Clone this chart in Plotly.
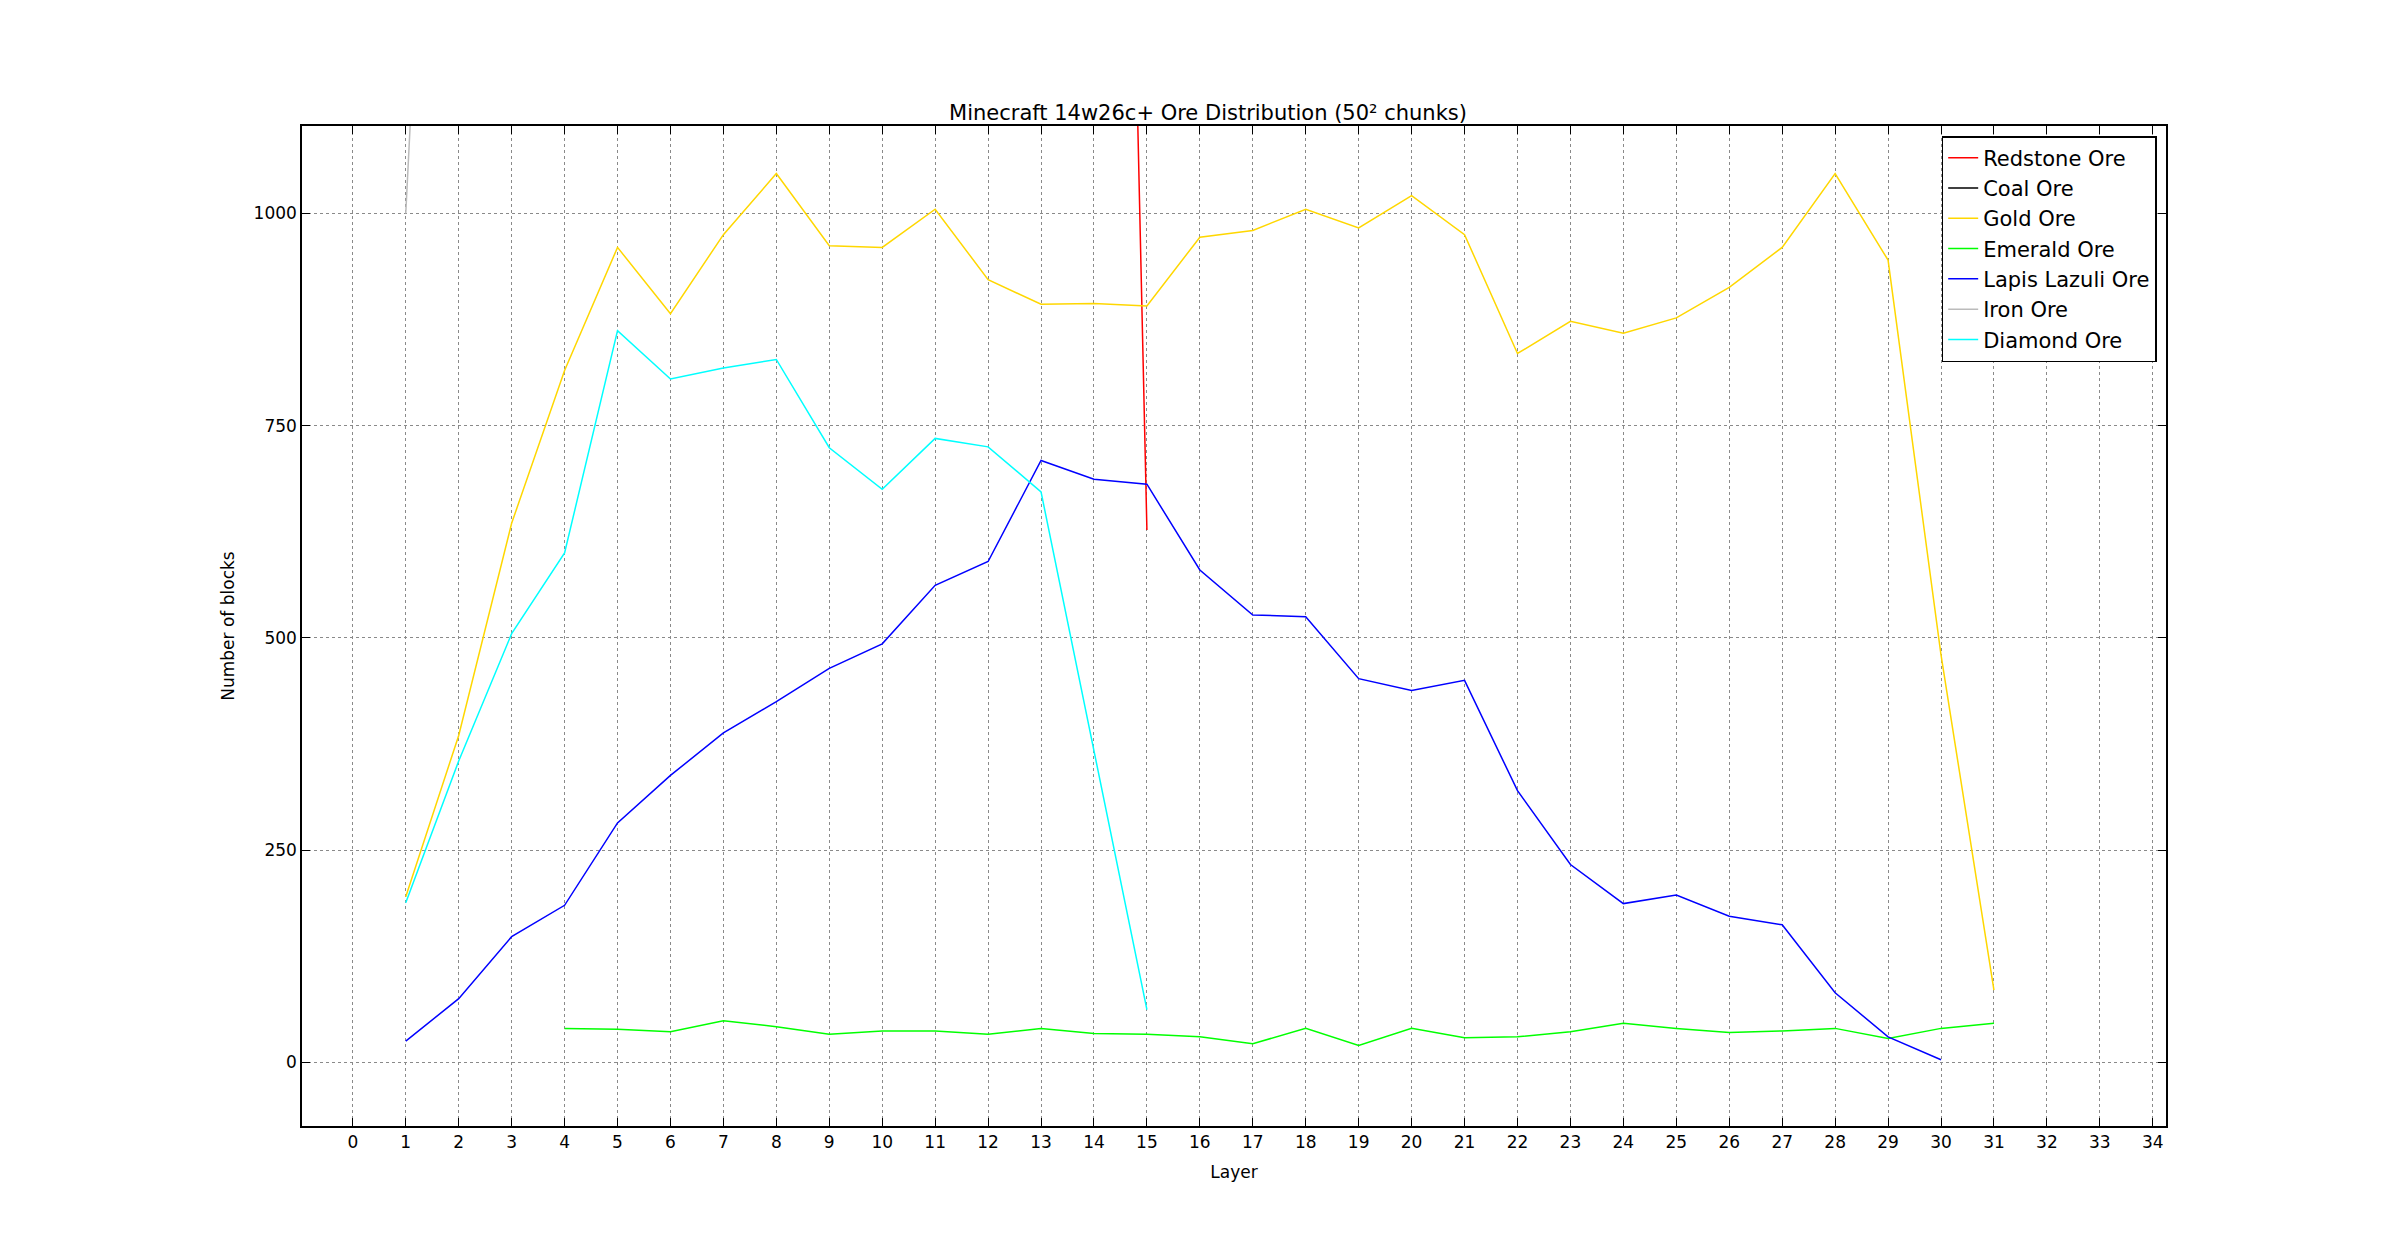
import plotly.graph_objects as go

layers_red = list(range(1, 16))
redstone = [3400]*14 + [627]
layers_coal = list(range(1, 16))
coal = [5000]*15
layers_iron = list(range(1, 16))
iron = [1000] + [2250]*14
layers_gold = list(range(1, 32))
gold = [195, 385, 635, 815, 960, 882, 975, 1047, 962, 960, 1005, 922, 893, 894, 891,
        972, 980, 1005, 983, 1021, 975, 835, 873, 859, 877, 913, 960, 1047, 945, 480, 85]
layers_em = list(range(4, 32))
emerald = [40, 39, 36, 49, 42, 33, 37, 37, 33, 40, 34, 33, 30, 22, 40, 20, 40, 29, 30, 36,
           46, 40, 35, 37, 40, 28, 40, 46]
layers_lapis = list(range(1, 31))
lapis = [25, 75, 148, 185, 282, 338, 388, 425, 464, 493, 562, 590, 709, 687, 681, 580, 527,
         525, 452, 438, 450, 320, 233, 187, 197, 172, 162, 82, 30, 3]
layers_dia = list(range(1, 16))
diamond = [188, 355, 505, 600, 862, 805, 818, 828, 724, 675, 735, 725, 672, 365, 62]

series = [
    ("Redstone Ore", layers_red, redstone, "#ff0000"),
    ("Coal Ore", layers_coal, coal, "#000000"),
    ("Gold Ore", layers_gold, gold, "#ffd700"),
    ("Emerald Ore", layers_em, emerald, "#00ff00"),
    ("Lapis Lazuli Ore", layers_lapis, lapis, "#0000ff"),
    ("Iron Ore", layers_iron, iron, "#bbbbbb"),
    ("Diamond Ore", layers_dia, diamond, "#00ffff"),
]

fig = go.Figure()
for name, x, y, c in series:
    fig.add_trace(go.Scatter(x=x, y=y, mode="lines", name=name,
                             line=dict(color=c, width=1.5)))

axis_common = dict(showline=True, mirror="ticks", linecolor="black", linewidth=1.5,
                   ticks="inside", ticklen=8, tickcolor="black", zeroline=False,
                   showgrid=True, gridcolor="#8a8a8a", griddash="dot", gridwidth=1,
                   tickfont=dict(size=17, color="black"))

fig.update_layout(
    width=2400, height=1242, paper_bgcolor="white", plot_bgcolor="white",
    font=dict(family="DejaVu Sans", color="black"),
    title=dict(text="Minecraft 14w26c+ Ore Distribution (50² chunks)", x=0.5,
               xanchor="center", y=0.91, yanchor="bottom", font=dict(size=21)),
    margin=dict(l=294, r=242, t=118, b=124),
    xaxis=dict(range=[-0.96, 34.25], tickmode="linear", tick0=0, dtick=1,
               title=dict(text="Layer", font=dict(size=17)), **axis_common),
    yaxis=dict(range=[-75, 1103], tickmode="linear", tick0=0, dtick=250,
               title=dict(text="Number of blocks", font=dict(size=17)), **axis_common),
    legend=dict(x=0.995, xanchor="right", y=0.99, yanchor="top",
                bordercolor="black", borderwidth=1.5, bgcolor="white",
                font=dict(size=21), tracegroupgap=0),
    showlegend=True,
)
fig.write_html("out.html")
